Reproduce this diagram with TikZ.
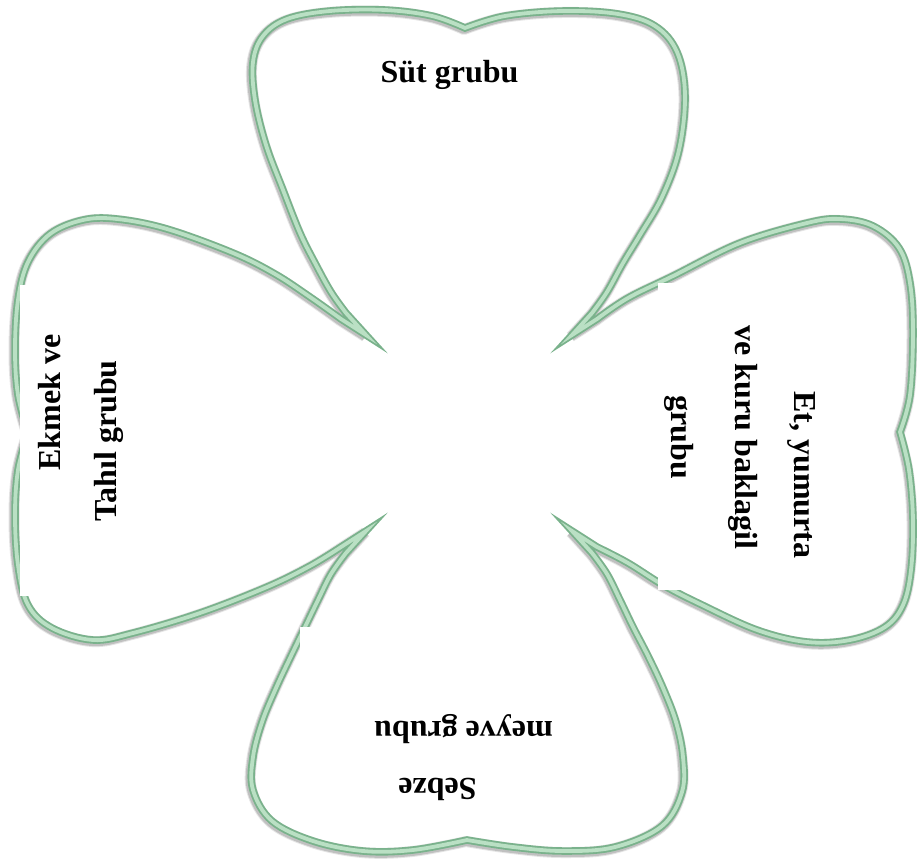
\documentclass[tikz,border=0pt]{standalone}
\usepackage{fontspec}
\setmainfont{Liberation Serif}
\definecolor{leafdark}{RGB}{122,178,140}
\definecolor{leaflight}{RGB}{186,224,196}
\tikzset{
  grouptext/.style={font=\fontsize{32}{38}\selectfont\bfseries, inner sep=0pt, anchor=base},
  coverbox/.style={fill=white, draw=none},
  leafshadow/.style={draw=black!75, line width=#1, line join=bevel},
  leafedge/.style={draw=leafdark, line width=7.5pt, line join=miter, miter limit=12},
  leafcore/.style={draw=leaflight, line width=3.8pt, line join=miter, miter limit=12},
}
% outline of the four-leaf clover, one closed path; the four sharp
% mitred joins near the centre give the pointed spikes between the leaves
\def\cloverpath{%
  (366,335)
  -- plot[smooth,tension=0.6] coordinates {(346,313) (331,292) (315,263) (300,233) (283,190) (266,145) (255,100) (253,62) (263,36) (287,19) (330,11) (385,10) (432,16) (465,28)}
  -- plot[smooth,tension=0.6] coordinates {(465,28) (505,16) (563,11) (618,14) (655,26) (677,52) (685,95) (679,150) (662,197) (640,235) (623,263) (607,292) (592,313)}
  -- (572,335)
  -- plot[smooth,tension=0.6] coordinates {(597,319) (628,298) (673,276) (740,243) (807,223) (840,219) (873,226) (899,248) (910,283) (913,333) (910,395) (900,432)}
  -- plot[smooth,tension=0.6] coordinates {(900,432) (909,470) (913,520) (911,570) (903,605) (885,627) (850,640) (807,642) (757,630) (700,604) (663,585) (628,563) (597,547)}
  -- (572,531)
  -- plot[smooth,tension=0.6] coordinates {(592,553) (607,574) (620,600) (633,627) (648,656) (663,688) (676,722) (683,757) (682,792) (662,826) (615,847) (563,851) (513,847) (467,840)}
  -- plot[smooth,tension=0.6] coordinates {(467,840) (413,850) (363,851) (313,841) (272,821) (253,790) (253,757) (262,722) (276,688) (291,656) (305,627) (318,600) (331,574) (346,553)}
  -- (366,531)
  -- plot[smooth,tension=0.6] coordinates {(341,547) (310,566) (267,587) (200,613) (133,633) (93,640) (52,628) (28,605) (18,565) (15,515) (18,470) (28,433)}
  -- plot[smooth,tension=0.6] coordinates {(28,433) (18,395) (15,350) (18,300) (28,262) (50,234) (83,220) (117,219) (167,229) (233,253) (275,274) (310,297) (341,319)}
  -- cycle}
\begin{document}
\begin{tikzpicture}[x=1pt,y=-1pt]
\useasboundingbox (0,0) rectangle (917,866);

% soft shadow under the outline
\begin{scope}[shift={(-1,1.5)}]
  \path[leafshadow=11pt, draw opacity=0.14] \cloverpath;
  \path[leafshadow=9pt, draw opacity=0.22] \cloverpath;
\end{scope}

% double green outline
\path[leafedge] \cloverpath;
\path[leafcore] \cloverpath;

% white text boxes
\fill[coverbox] (20,285) rectangle (140,596);
\fill[coverbox] (658,283) rectangle (870,590);
\fill[coverbox] (300,627) rectangle (615,815);

% labels
\node[grouptext] (milk) at (449.5,83) {Süt grubu};

\node[grouptext, rotate=90] (bread1) at (60,402.5) {Ekmek ve};
\node[grouptext, rotate=90] (bread2) at (116,441) {Tahıl grubu};

\node[grouptext, rotate=-90] (meat1) at (794,475) {Et, yumurta};
\node[grouptext, rotate=-90] (meat2) at (735,437.5) {ve kuru baklagil};
\node[grouptext, rotate=-90] (meat3) at (671,437.5) {grubu};

\node[grouptext, rotate=180] (veg1) at (463.5,721) {meyve grubu};
\node[grouptext, rotate=180] (veg2) at (437.5,778) {Sebze};
\end{tikzpicture}
\end{document}
